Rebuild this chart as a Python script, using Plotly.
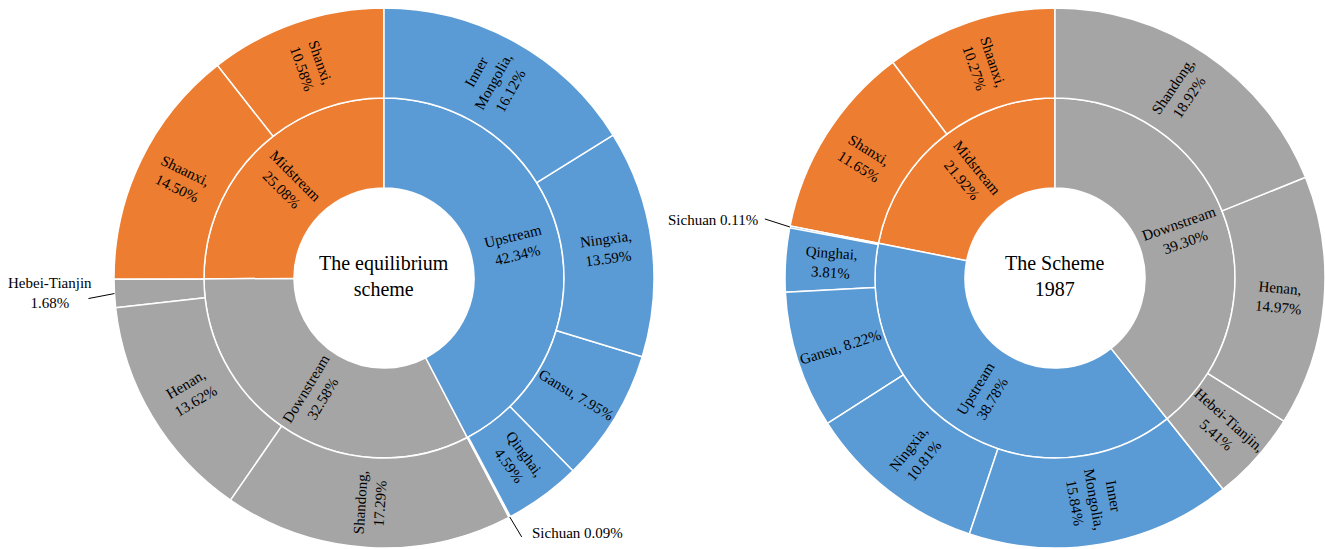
import math
import plotly.graph_objects as go

# Equilibrium scheme shares (%), listed clockwise from 12 o'clock
eq_regions = ["Upstream", "Downstream", "Midstream"]
eq_region_shares = [42.34, 32.58, 25.08]
eq_provinces = {
    "Upstream": ["Inner Mongolia", "Ningxia", "Gansu", "Qinghai", "Sichuan"],
    "Downstream": ["Shandong", "Henan", "Hebei-Tianjin"],
    "Midstream": ["Shaanxi", "Shanxi"],
}
eq_province_shares = {
    "Upstream": [16.12, 13.59, 7.95, 4.59, 0.09],
    "Downstream": [17.29, 13.62, 1.68],
    "Midstream": [14.50, 10.58],
}

# 1987 scheme shares (%), listed clockwise from 12 o'clock
s87_regions = ["Downstream", "Upstream", "Midstream"]
s87_region_shares = [39.30, 38.78, 21.92]
s87_provinces = {
    "Downstream": ["Shandong", "Henan", "Hebei-Tianjin"],
    "Upstream": ["Inner Mongolia", "Ningxia", "Gansu", "Qinghai", "Sichuan"],
    "Midstream": ["Shanxi", "Shaanxi"],
}
s87_province_shares = {
    "Downstream": [18.92, 14.97, 5.41],
    "Upstream": [15.84, 10.81, 8.22, 3.81, 0.11],
    "Midstream": [11.65, 10.27],
}

region_colors = {"Upstream": "#5B9BD5", "Midstream": "#ED7D31", "Downstream": "#A5A5A5"}
province_text = {
    "Inner Mongolia": "Inner<br>Mongolia,<br>{v:.2f}%",
    "Gansu": "Gansu, {v:.2f}%",
}

FONT = "Liberation Serif"
W, H = 1325, 549


def build(tag, regions, rshares, provs, pshares, title):
    """Sunburst node lists; children reversed so slices run clockwise."""
    ids, labels, parents, values, colors = [], [], [], [], []
    root = tag + "root"
    ids.append(root); labels.append(title.replace("<br>", " ")); parents.append("")
    values.append(0); colors.append("white")
    for r in reversed(regions):
        rid = tag + r
        ids.append(rid); labels.append(r); parents.append(root); values.append(0)
        colors.append(region_colors[r])
        for p, pv in reversed(list(zip(provs[r], pshares[r]))):
            ids.append(rid + p); labels.append(p); parents.append(rid); values.append(pv)
            colors.append(region_colors[r])
    return ids, labels, parents, values, colors


def domain_px(x0, x1, y0, y1):
    return dict(x=[x0 / W, x1 / W], y=[1 - y1 / H, 1 - y0 / H])


def radial_angle(theta_deg):
    """Text rotation that runs along the radius, kept readable."""
    a = theta_deg - 90
    while a > 90:
        a -= 180
    while a <= -90:
        a += 180
    return a


# thin slices labelled outside: leader-line end offset (px) and text placement
eq_outside = {
    "Sichuan": dict(dx=12, dy=20, side="left", fmt="{n} {v:.2f}%"),
    "Hebei-Tianjin": dict(dx=-26, dy=5, side="center", fmt="{n}<br>{v:.2f}%", tx=-64, ty=-1),
}
s87_outside = {
    "Sichuan": dict(dx=-25, dy=-8, side="right", fmt="{n} {v:.2f}%"),
}

charts = [
    ("eq", eq_regions, eq_region_shares, eq_provinces, eq_province_shares,
     "The equilibrium<br>scheme", (114, 654, 8, 548), eq_outside),
    ("s87", s87_regions, s87_region_shares, s87_provinces, s87_province_shares,
     "The Scheme<br>1987", (785, 1325, 8, 548), s87_outside),
]

fig = go.Figure()
annotations, shapes = [], []


def label(x_px, y_px, text, angle=0, size=15, xa="center"):
    annotations.append(dict(
        x=x_px / W, y=1 - y_px / H, xref="paper", yref="paper",
        text=text, showarrow=False, textangle=angle,
        xanchor=xa, yanchor="middle",
        font=dict(family=FONT, size=size, color="black"),
    ))


for tag, regs, rsh, provs, psh, title, box, outside in charts:
    ids, labels, parents, values, colors = build(tag, regs, rsh, provs, psh, title)
    fig.add_trace(go.Sunburst(
        ids=ids, labels=labels, parents=parents, values=values,
        branchvalues="remainder", sort=False, rotation=90,
        textinfo="none",
        marker=dict(colors=colors, line=dict(color="white", width=1.5)),
        leaf=dict(opacity=1),
        domain=domain_px(*box),
        hoverinfo="label+value",
    ))
    cx = (box[0] + box[1]) / 2
    cy = (box[2] + box[3]) / 2
    radius = (box[1] - box[0]) / 2
    ring = radius / 3
    label(cx, cy - 2, title, size=20)

    total = sum(sum(v) for v in psh.values())

    def polar(frac, r):
        t = frac * 2 * math.pi
        return cx + r * math.sin(t), cy - r * math.cos(t), math.degrees(t)

    cum = 0.0
    for r, rv in zip(regs, rsh):
        rsum = sum(psh[r])
        x, y, th = polar((cum + rsum / 2) / total, ring * 1.5)
        label(x, y, f"{r}<br>{rv:.2f}%", radial_angle(th))
        for p, pv in zip(provs[r], psh[r]):
            if p in outside:
                o = outside[p]
                px, py, _ = polar((cum + pv / 2) / total, radius)
                ex, ey = px + o["dx"], py + o["dy"]
                shapes.append(dict(
                    type="line", xref="paper", yref="paper",
                    x0=px / W, y0=1 - py / H, x1=ex / W, y1=1 - ey / H,
                    line=dict(color="black", width=1),
                ))
                txt = o["fmt"].format(n=p, v=pv)
                if o["side"] == "left":
                    label(ex + 8, ey - 4, txt, xa="left")
                elif o["side"] == "right":
                    label(ex - 5, ey + 1, txt, xa="right")
                else:
                    label(px + o["tx"], py + o["ty"], txt)
            else:
                x, y, th = polar((cum + pv / 2) / total, ring * 2.5)
                txt = province_text.get(p, "{n},<br>{v:.2f}%").format(n=p, v=pv)
                label(x, y, txt, radial_angle(th))
            cum += pv

fig.update_layout(
    width=W, height=H,
    margin=dict(l=0, r=0, t=0, b=0),
    paper_bgcolor="white",
    annotations=annotations,
    shapes=shapes,
    showlegend=False,
)

fig.write_html("out.html")
